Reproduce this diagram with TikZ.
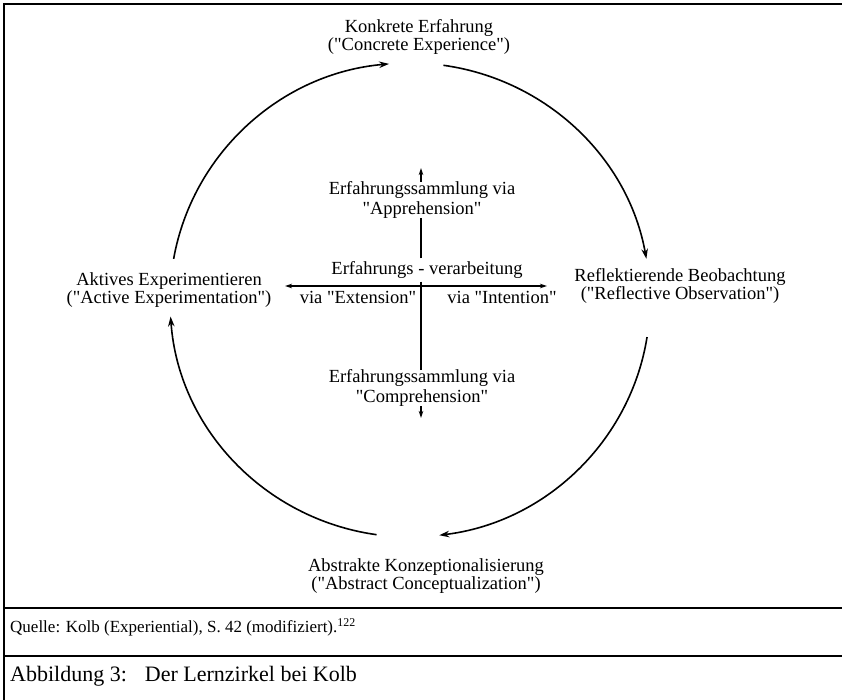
\documentclass[tikz,border=0pt]{standalone}
\usepackage{fontspec}
\setmainfont{Liberation Serif}
\usetikzlibrary{arrows.meta}
% straight double quote, kept out of the TeX ligature mapping
\newcommand{\dq}{\XeTeXglyph\XeTeXcharglyph"22\relax}

\begin{document}
\begin{tikzpicture}[
    x			= 1pt,
    y			= 1pt,
    >={Stealth[length=10pt, width=6.5pt]},
    stage/.style	= {align=center, inner sep=0pt, font=\fontsize{18.5}{18.5}\selectfont},
    via/.style		= {align=center, inner sep=0pt, font=\fontsize{18.5}{19.5}\selectfont},
    ring/.style		= {line width=1.6pt, ->},
    axis/.style		= {line width=1.2pt},
    small/.style	= {-{Stealth[length=7pt, width=4.5pt]}},
    rule/.style		= {line width=1.2pt}
  ]
\useasboundingbox (0,0) rectangle (842,700);
% frame
\draw[rule] (4,0) -- (4,696) -- (842,696);
\draw[rule] (4,92) -- (842,92);
\draw[rule] (4,44) -- (842,44);
% stages
\node[stage] (ke) at (419,663) {Konkrete Erfahrung\\(\dq Concrete Experience\dq)};
\node[stage] (rb) at (680,414) {Reflektierende Beobachtung\\(\dq Reflective Observation\dq)};
\node[stage] (ak) at (426,124) {Abstrakte Konzeptionalisierung\\(\dq Abstract Conceptualization\dq)};
\node[stage] (ae) at (169,410) {Aktives Experimentieren\\(\dq Active Experimentation\dq)};
% cycle
\coordinate (c) at (410,400);
\draw[ring] ([shift={(170:240 and 237)}]c) arc[start angle=170, end angle=95, x radius=240pt, y radius=237pt];
\draw[ring] ([shift={(82:240 and 237)}]c) arc[start angle=82, end angle=10, x radius=240pt, y radius=237pt];
\draw[ring] ([shift={(-9:240 and 237)}]c) arc[start angle=-9, end angle=-83, x radius=240pt, y radius=237pt];
\draw[ring] ([shift={(-98:240 and 237)}]c) arc[start angle=-98, end angle=-176, x radius=240pt, y radius=237pt];
% cross in the middle
\coordinate (hub) at (421,414);
\coordinate (west) at (285,414);
\coordinate (east) at (547,414);
\coordinate (up) at (421,532);
\coordinate (down) at (421,282);
\node[via, outer ysep=3pt] (verarb) at (427,430) {Erfahrungs - verarbeitung};
\node[via] (app) at (422,500) {Erfahrungssammlung via\\\dq Apprehension\dq};
\node[via] (comp) at (422,312) {Erfahrungssammlung via\\\dq Comprehension\dq};
\node[via] (ext) at (358,403) {via \dq Extension\dq};
\node[via] (int) at (502,403) {via \dq Intention\dq};
\draw[axis, <->, >={Stealth[length=7pt, width=4.5pt]}] (west) -- (east);
\draw[axis] (verarb.south -| hub) -- (comp.north -| hub);
\draw[axis] (verarb.north -| hub) -- (app.south -| hub);
\draw[axis, small] (app.north -| hub) -- (up);
\draw[axis, small] (comp.south -| hub) -- (down);
% source and caption
\node[anchor=base west, inner sep=0pt, font=\fontsize{17}{20}\selectfont] (source) at (10,67) {Quelle: Kolb (Experiential), S. 42 (modifiziert).\textsuperscript{122}};
\node[anchor=base west, inner sep=0pt, font=\fontsize{22}{24}\selectfont] (caption) at (10,18) {Abbildung 3:\hspace{18pt}Der Lernzirkel bei Kolb};
\end{tikzpicture}
\end{document}
